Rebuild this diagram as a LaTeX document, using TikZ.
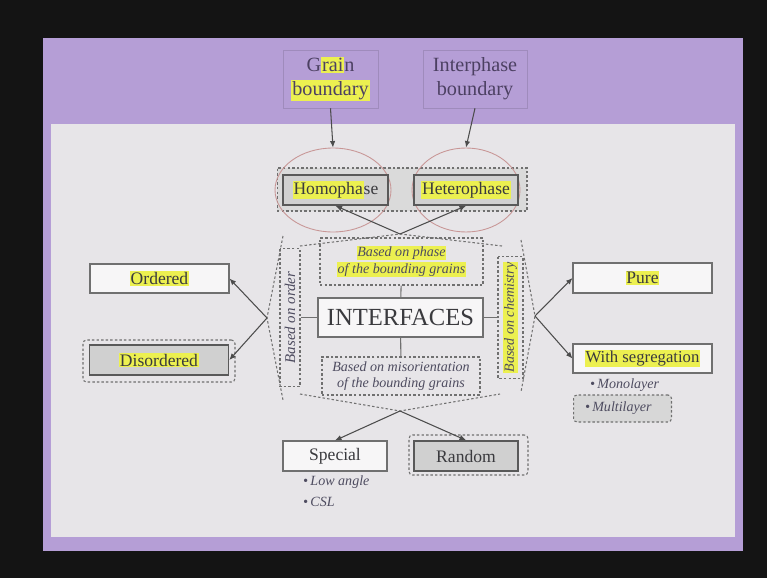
\documentclass[tikz,border=0pt]{standalone}
\usepackage{fontspec}
\setmainfont{Liberation Serif}
\usetikzlibrary{arrows.meta,shapes.geometric}
\definecolor{slidepurple}{RGB}{181,158,214}
\definecolor{slidebg}{RGB}{231,229,232}
\definecolor{inktext}{RGB}{58,58,62}
\definecolor{noteink}{RGB}{78,76,96}
\definecolor{titleink}{RGB}{76,64,98}
\definecolor{boxline}{RGB}{112,112,112}
\definecolor{boxgrey}{RGB}{208,208,208}
\definecolor{groupgrey}{RGB}{218,218,218}
\definecolor{hlyellow}{RGB}{236,240,80}
\definecolor{ringred}{RGB}{200,150,150}
\newcommand{\hl}[1]{{\setlength{\fboxsep}{0.5pt}\colorbox{hlyellow}{#1}}}

\begin{document}
\begin{tikzpicture}[x=0.02cm, y=-0.02cm,
  box/.style={draw=boxline, line width=0.6pt, fill=white!65!slidebg, text=inktext,
              minimum height=0.6cm, inner sep=0pt, font=\fontsize{10}{12}\selectfont},
  greybox/.style={box, fill=boxgrey, draw=black!65, line width=0.9pt},
  dotbox/.style={draw=boxline, dash pattern=on 1.4pt off 1.2pt, line width=0.6pt, inner sep=0pt},
  note/.style={text=noteink, font=\fontsize{8}{9.5}\selectfont\itshape, align=center},
  title/.style={draw=slidepurple!88!black, line width=0.3pt, text=titleink, align=center,
                minimum width=1.9cm, minimum height=1.16cm, inner sep=0pt,
                font=\fontsize{11.5}{13.5}\selectfont},
  ring/.style={ellipse, draw=ringred, line width=0.5pt, minimum height=1.68cm, inner sep=0pt},
  link/.style={draw=boxline, line width=0.6pt},
  ar/.style={-{Latex[length=1.3mm,width=1.1mm]}, draw=black!70, line width=0.6pt}
]
% slide
\fill[black!92] (0,0) rectangle (767,578);
\fill[slidepurple] (43,38) rectangle (743,551);
\fill[slidebg] (51,124) rectangle (735,537);

\node[title] (gb) at (330.5,79) {G\hl{rai}n\\\hl{boundary}};
\node[title, minimum width=2.08cm] (ib) at (475,79) {Interphase\\boundary};

\node[dotbox, fill=groupgrey, minimum width=5cm, minimum height=0.86cm] (phgroup) at (402,189.5) {};
\node[ring, minimum width=2.32cm] (ringa) at (333,190) {};
\node[ring, minimum width=2.16cm] (ringb) at (466,190) {};
\node[greybox, minimum width=2.1cm] (homo) at (335.5,190) {\hl{Homopha}se};
\node[greybox, minimum width=2.08cm] (hetero) at (466,190) {\hl{Heterophase}};

\node[box, minimum width=3.3cm, minimum height=0.78cm, font=\fontsize{14}{16}\selectfont] (iface) at (400.5,317.5) {INTERFACES};
\node[dotbox, note, minimum width=3.26cm, minimum height=0.94cm] (phase) at (401.5,261.5)
  {\hl{Based on phase}\\\hl{of the bounding grains}};
\node[dotbox, note, minimum width=3.16cm, minimum height=0.76cm] (mis) at (401,376)
  {Based on misorientation\\of the bounding grains};
\node[dotbox, note, rotate=90, minimum width=2.76cm, minimum height=0.4cm,
      font=\fontsize{8.5}{10}\selectfont\itshape] (order) at (290,317.5) {Based on order};
\node[dotbox, note, rotate=90, minimum width=2.44cm, minimum height=0.5cm] (chem) at (510.5,317.5)
  {\hl{Based on chemistry}};

\coordinate (ptop) at (400,234);
\coordinate (pbot) at (400,411);
\coordinate (pleft) at (267,318);
\coordinate (pright) at (535,316);
\draw[dotbox] (300,246) -- (ptop) -- (502,246);
\draw[dotbox] (300,394) -- (pbot) -- (500,394);
\draw[dotbox] (283,236) -- (pleft) -- (283,400);
\draw[dotbox] (521,240) -- (pright) -- (521,392);

\node[box, minimum width=2.78cm, minimum height=0.58cm] (ord) at (159.5,278.5) {\hl{Ordered}};
\node[dotbox, rounded corners=2pt, minimum width=3.04cm, minimum height=0.84cm] (disgroup) at (159,361) {};
\node[greybox, minimum width=2.78cm] (dis) at (159,360) {\hl{Disordered}};

\node[box, minimum width=2.78cm] (pure) at (642.5,278) {\hl{Pure}};
\node[box, minimum width=2.78cm, minimum height=0.58cm, font=\fontsize{9.5}{11}\selectfont] (seg) at (642.5,358.5)
  {\hl{With segregation}};
\node[note, anchor=west] (mono) at (584,385) {\textbullet\,Monolayer};
\node[dotbox, note, rounded corners=2pt, fill=boxgrey!85!white, anchor=west, align=left,
      text width=1.5cm, inner xsep=0.23cm, minimum height=0.54cm] (multi) at (573,408.5) {\textbullet\,Multilayer};

\node[box, minimum width=2.08cm] (spec) at (335,456) {Special};
\node[dotbox, rounded corners=2pt, minimum width=2.38cm, minimum height=0.8cm] (randgroup) at (468.5,455) {};
\node[greybox, minimum width=2.08cm] (rand) at (466,456) {Random};
\node[note, anchor=west] (low) at (297,482) {\textbullet\,Low angle};
\node[note, anchor=west] (csl) at (297,502) {\textbullet\,CSL};

\draw[ar] (gb.south) -- (ringa.north);
\draw[ar] (ib.south) -- (ringb.north);
\draw[ar] (ptop) -- (homo.south);
\draw[ar] (ptop) -- (hetero.south);
\draw[ar] (pleft) -- (ord.east);
\draw[ar] (pleft) -- (dis.east);
\draw[ar] (pright) -- (pure.west);
\draw[ar] (pright) -- (seg.west);
\draw[ar] (pbot) -- (spec.north);
\draw[ar] (pbot) -- (rand.north);
\draw[link] (phase) -- (iface);
\draw[link] (iface) -- (mis);
\draw[link] (iface) -- (order);
\draw[link] (iface) -- (chem);
\end{tikzpicture}
\end{document}
